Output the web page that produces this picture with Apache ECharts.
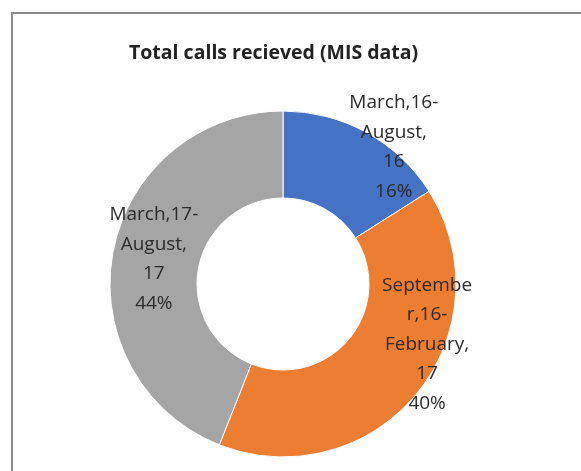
<!DOCTYPE html>
<html><head><meta charset="utf-8">
<script src="https://cdn.jsdelivr.net/npm/echarts@6/dist/echarts.min.js"></script>
<style>html,body{margin:0;padding:0;background:#fff}#c{width:581px;height:471px}</style>
</head><body><div id="c"></div>
<script>
const categories = ['March,16-August,16', 'September,16-February,17', 'March,17-August,17'];
const values = [16, 40, 44];
const labelLines = [
  ['March,16-', 'August,', '16'],
  ['Septembe', 'r,16-', 'February,', '17'],
  ['March,17-', 'August,', '17']
];
const colors = ['#4472C4', '#ED7D31', '#A5A5A5'];
const labelOffsets = [[47, -21], [42, -24], [1, 0]];

const chart = echarts.init(document.getElementById('c'));
const fontFamily = "'Open Sans', 'Liberation Sans', sans-serif";
chart.setOption({
  animation: false,
  backgroundColor: '#fff',
  title: {
    text: 'Total calls recieved (MIS data)',
    left: 124, top: 38,
    textStyle: { fontFamily, fontSize: 19.5, fontWeight: 'bold', color: '#222' }
  },
  graphic: [{
    type: 'polyline',
    shape: { points: [[12, 471], [12, 13], [581, 13]] },
    style: { stroke: '#8c8c8c', lineWidth: 2, fill: null }
  }],
  series: [{
    type: 'pie',
    center: [283, 284],
    radius: [86, 173],
    startAngle: 90,
    clockwise: true,
    itemStyle: { borderColor: '#fff', borderWidth: 1 },
    label: {
      show: true,
      position: 'inside',
      fontFamily, fontSize: 19, color: '#2b2b2b', lineHeight: 29.5, align: 'center'
    },
    labelLine: { show: false },
    data: categories.map((name, i) => ({
      name, value: values[i],
      itemStyle: { color: colors[i] },
      label: {
        offset: labelOffsets[i],
        formatter: p => labelLines[i].join('\n') + '\n' + Math.round(p.percent) + '%'
      }
    }))
  }]
});
</script></body></html>
